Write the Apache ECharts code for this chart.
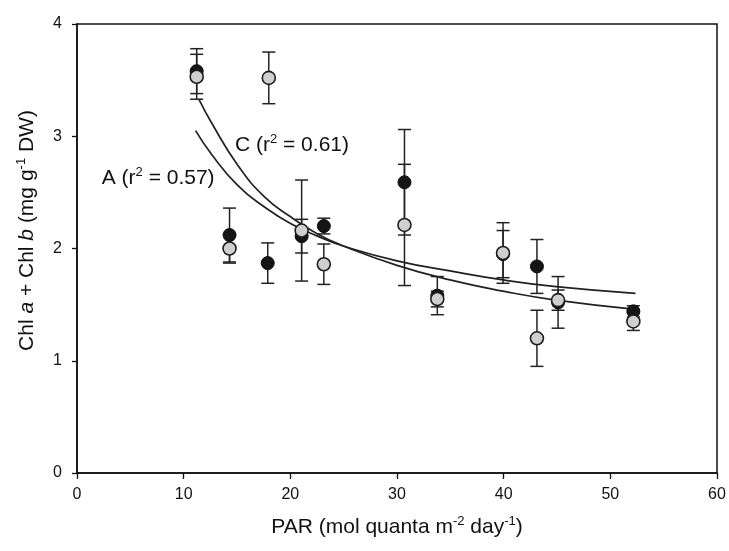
<!DOCTYPE html>
<html>
<head>
<meta charset="utf-8">
<script src="https://cdn.jsdelivr.net/npm/echarts@6/dist/echarts.min.js"></script>
<style>html,body{margin:0;padding:0;background:#fff;}#main{width:729px;height:551px;}</style>
</head>
<body>
<div id="main"></div>
<script>
// PAR (x) and Chl a + Chl b values for the two series
const parBlack = [11.22, 14.30, 17.88, 21.06, 23.14, 30.70, 33.78, 39.94, 43.12, 45.10, 52.16];
const chlBlack = [3.58, 2.12, 1.87, 2.11, 2.20, 2.59, 1.58, 1.95, 1.84, 1.52, 1.44];
const errBlack = [0.20, 0.24, 0.18, 0.15, 0.07, 0.47, 0.17, 0.21, 0.24, 0.23, 0.05];

const parGrey = [11.22, 14.30, 17.98, 21.06, 23.14, 30.70, 33.78, 39.94, 43.12, 45.10, 52.16];
const chlGrey = [3.53, 2.00, 3.52, 2.16, 1.86, 2.21, 1.55, 1.96, 1.20, 1.54, 1.35];
const errGrey = [0.20, 0.13, 0.23, 0.45, 0.18, 0.54, 0.07, 0.27, 0.25, 0.09, 0.08];

// fitted curves
const curveAx = [11.12, 12.61, 15.09, 17.58, 20.06, 22.55, 25.03, 30.0, 34.97, 39.94, 44.91, 52.36];
const curveAy = [3.05, 2.84, 2.56, 2.37, 2.22, 2.11, 2.02, 1.89, 1.80, 1.72, 1.66, 1.60];
const curveCx = [11.42, 12.61, 15.09, 17.58, 20.06, 22.55, 25.03, 30.0, 34.97, 39.94, 44.91, 52.16];
const curveCy = [3.33, 3.12, 2.74, 2.46, 2.28, 2.13, 2.02, 1.85, 1.72, 1.62, 1.54, 1.46];

// annotation positions (data coords) and texts
const labelC = {x: 14.81, y: 2.92, text: 'C (r{sup|2} = 0.61)'};
const labelA = {x: 2.32, y: 2.63, text: 'A (r{sup|2} = 0.57)'};

const xTicks = {min: 0, max: 60, interval: 10};
const yTicks = {min: 0, max: 4, interval: 1};

const FONT = '"Liberation Sans", Arial, sans-serif';
const INK = '#111';

function zip3(a, b, c) { return a.map((v, i) => [v, b[i], c[i]]); }
function zip2(a, b) { return a.map((v, i) => [v, b[i]]); }

function errRender(params, api) {
  const x = api.value(0), y = api.value(1), e = api.value(2);
  const top = api.coord([x, y + e]);
  const bot = api.coord([x, y - e]);
  const hw = 6.5;
  const st = {stroke: '#222', lineWidth: 1.5};
  return {
    type: 'group',
    children: [
      {type: 'line', shape: {x1: top[0], y1: top[1], x2: bot[0], y2: bot[1]}, style: st},
      {type: 'line', shape: {x1: top[0] - hw, y1: top[1], x2: top[0] + hw, y2: top[1]}, style: st},
      {type: 'line', shape: {x1: bot[0] - hw, y1: bot[1], x2: bot[0] + hw, y2: bot[1]}, style: st}
    ]
  };
}

const nameRich = {
  sup: {fontSize: 13, fontFamily: FONT, color: INK, verticalAlign: 'top', lineHeight: 24},
  i: {fontSize: 21, fontFamily: FONT, fontStyle: 'italic', color: INK, lineHeight: 24}
};

const chart = echarts.init(document.getElementById('main'), null, {renderer: 'canvas'});
chart.setOption({
  backgroundColor: '#fff',
  animation: false,
  grid: {left: 77, right: 12, top: 24, bottom: 78, show: true, borderColor: INK, borderWidth: 1.5, backgroundColor: 'transparent'},
  xAxis: {
    type: 'value', min: xTicks.min, max: xTicks.max, interval: xTicks.interval,
    name: 'PAR (mol quanta m{sup|-2} day{sup|-1})',
    nameLocation: 'middle', nameGap: 42,
    nameTextStyle: {fontSize: 21, fontFamily: FONT, color: INK, lineHeight: 24, rich: nameRich},
    axisLine: {lineStyle: {color: INK, width: 1.5}},
    axisTick: {show: true, inside: false, length: 6, lineStyle: {color: INK, width: 1.3}},
    axisLabel: {fontSize: 16, fontFamily: FONT, color: INK, margin: 14},
    splitLine: {show: false}
  },
  yAxis: {
    type: 'value', min: yTicks.min, max: yTicks.max, interval: yTicks.interval,
    name: 'Chl {i|a} + Chl {i|b} (mg g{sup|-1} DW)',
    nameLocation: 'middle', nameGap: 38, nameRotate: 90,
    nameTextStyle: {fontSize: 21, fontFamily: FONT, color: INK, lineHeight: 24, rich: nameRich, padding: [0, 0, 0, 36]},
    axisLine: {show: true, lineStyle: {color: INK, width: 1.5}},
    axisTick: {show: true, inside: false, length: 5, lineStyle: {color: INK, width: 1.3}},
    axisLabel: {fontSize: 16, fontFamily: FONT, color: INK, margin: 15},
    splitLine: {show: false}
  },
  series: [
    {type: 'custom', name: 'errBlack', renderItem: errRender, data: zip3(parBlack, chlBlack, errBlack), z: 2},
    {type: 'custom', name: 'errGrey', renderItem: errRender, data: zip3(parGrey, chlGrey, errGrey), z: 2},
    {type: 'line', name: 'A fit', data: zip2(curveAx, curveAy), smooth: true, showSymbol: false,
     lineStyle: {color: '#222', width: 1.7}, z: 3},
    {type: 'line', name: 'C fit', data: zip2(curveCx, curveCy), smooth: true, showSymbol: false,
     lineStyle: {color: '#222', width: 1.7}, z: 3},
    {type: 'scatter', name: 'black', data: zip2(parBlack, chlBlack), symbol: 'circle', symbolSize: 13,
     itemStyle: {color: '#151515', borderColor: '#0d0d0d', borderWidth: 1, opacity: 1}, z: 4},
    {type: 'scatter', name: 'grey', data: zip2(parGrey, chlGrey), symbol: 'circle', symbolSize: 13,
     itemStyle: {color: '#cfcfcf', borderColor: '#1e1e1e', borderWidth: 1.6, opacity: 1}, z: 5},
    {type: 'scatter', name: 'labels', symbolSize: 0, silent: true, z: 6,
     itemStyle: {opacity: 1},
     data: [
       {value: [labelC.x, labelC.y], label: {formatter: labelC.text}},
       {value: [labelA.x, labelA.y], label: {formatter: labelA.text}}
     ],
     label: {show: true, position: 'right', distance: 0, fontSize: 21, fontFamily: FONT, color: INK, opacity: 1,
             lineHeight: 24, rich: {sup: {fontSize: 13, fontFamily: FONT, color: INK, verticalAlign: 'top', lineHeight: 24}}}
    }
  ]
});
</script>
</body>
</html>
